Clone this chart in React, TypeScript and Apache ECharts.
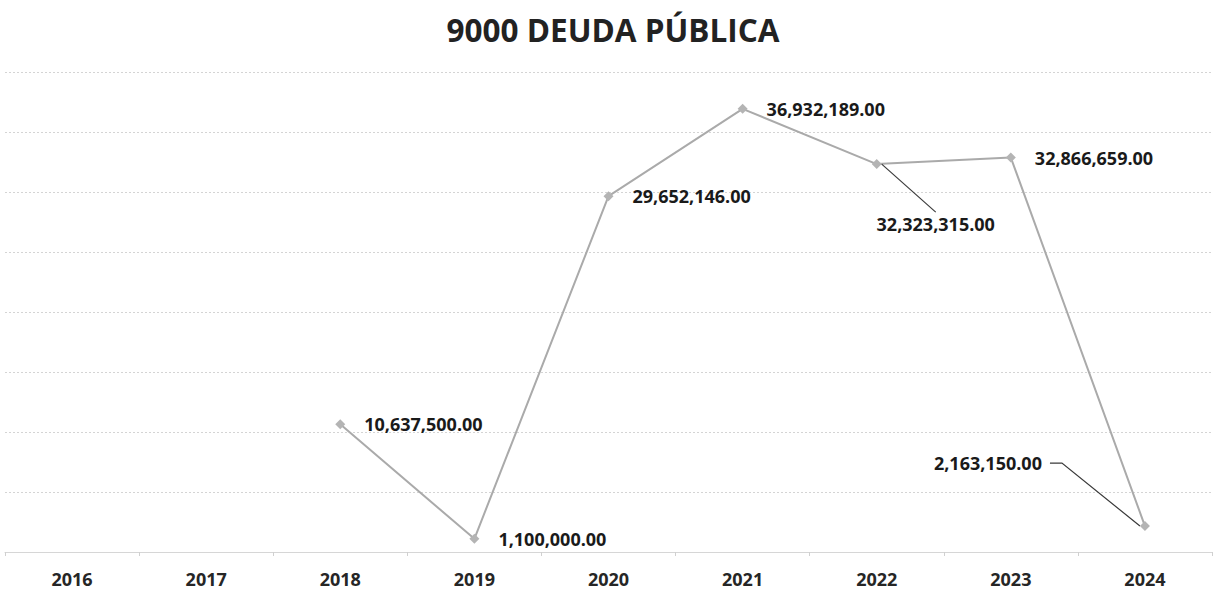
import React, { useEffect, useRef } from "react";
import * as echarts from "echarts";

const title = "9000 DEUDA PÚBLICA";
const years = ["2016", "2017", "2018", "2019", "2020", "2021", "2022", "2023", "2024"];
const deuda: (number | null)[] = [null, null, 10637500, 1100000, 29652146, 36932189, 32323315, 32866659, 2163150];
const yMin = 0;
const yMax = 40000000;
const yStep = 5000000;

const fmt = (v: number) =>
  v.toLocaleString("en-US", { minimumFractionDigits: 2, maximumFractionDigits: 2 });

export default function App() {
  const ref = useRef<HTMLDivElement>(null);
  useEffect(() => {
    document.body.style.margin = "0";
    const chart = echarts.init(ref.current!, null, { renderer: "svg" });
    const font = "'Open Sans', 'Noto Sans', sans-serif";
    const data = deuda.map((v, i) => {
      if (i === 6) {
        return {
          value: v,
          label: { position: "bottom", padding: [3, 60, 0, 60], backgroundColor: "rgba(255,255,255,0)" },
          labelLine: { show: true, length2: 0 },
        };
      }
      if (i === 8) {
        return {
          value: v,
          label: { position: "left", padding: [0, 8, 0, 0], backgroundColor: "rgba(255,255,255,0)" },
          labelLine: { show: true, length2: 12 },
        };
      }
      return { value: v };
    });
    chart.setOption({
      animation: false,
      backgroundColor: "#ffffff",
      title: {
        text: title,
        left: 608,
        textAlign: "center",
        top: 8,
        textStyle: { fontFamily: font, fontSize: 31.5, fontWeight: "bold", color: "#222222" },
      },
      grid: { left: 5, right: 2, top: 72, bottom: 41, containLabel: false },
      xAxis: {
        type: "category",
        data: years,
        boundaryGap: true,
        axisLine: { show: true, lineStyle: { color: "#d6d6d6", width: 1 } },
        axisTick: { show: true, length: 4, lineStyle: { color: "#d0d0d0" } },
        axisLabel: {
          margin: 18,
          fontFamily: font,
          fontSize: 18,
          fontWeight: "bold",
          color: "#262626",
        },
      },
      yAxis: {
        type: "value",
        min: yMin,
        max: yMax,
        interval: yStep,
        axisLabel: { show: false },
        axisLine: { show: false },
        axisTick: { show: false },
        splitLine: { show: true, lineStyle: { color: "#d4d4d4", type: [2, 2], width: 1 } },
      },
      series: [
        {
          type: "line",
          data,
          symbol: "diamond",
          symbolSize: 10,
          showSymbol: true,
          connectNulls: false,
          lineStyle: { color: "#aaaaaa", width: 2 },
          itemStyle: { color: "#b4b4b4" },
          label: {
            show: true,
            position: "right",
            distance: 19,
            offset: [0, 3],
            fontFamily: font,
            fontSize: 18,
            fontWeight: "bold",
            color: "#1a1a1a",
            formatter: (p: any) => fmt(p.value as number),
          },
          labelLine: { show: false, lineStyle: { color: "#3a3a3a", width: 1.2 } },
          labelLayout: (p: any) => {
            if (p.dataIndex === 6) return { dx: 59, dy: 24 };
            if (p.dataIndex === 8) return { dx: -71, dy: -63 };
            return {};
          },
        },
      ],
    });
    return () => chart.dispose();
  }, []);
  return <div ref={ref} style={{ width: 1214, height: 593 }} />;
}
